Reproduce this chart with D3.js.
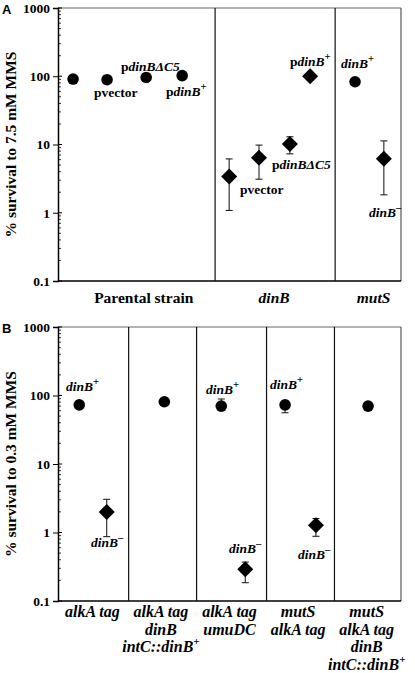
<!DOCTYPE html>
<html><head><meta charset="utf-8">
<script src="https://cdn.jsdelivr.net/npm/d3@7"></script>
<style>
html,body{margin:0;padding:0;background:#fff;}
svg{display:block;font-family:"Liberation Serif","Times New Roman",serif;}
</style></head>
<body>
<svg id="c" width="415" height="673"></svg>
<script>
// ---------- DATA ----------
const yTicks = [0.1, 1, 10, 100, 1000];
const yTickLabels = ["0.1", "1", "10", "100", "1000"];

// Panel A
const groupsA = ["Parental strain", "dinB", "mutS"];
const groupItalicA = [false, true, true];
const groupCentersA = [2.5, 6.3, 9.2];
const dividersA = [4.58, 8.08];
const posA   = [0.44, 1.43, 2.57, 3.62, 4.99, 5.86, 6.76, 7.35, 8.66, 9.50];
const valA   = [91, 89, 96, 102, 3.4, 6.4, 10.2, 100, 83, 6.2];
const shapeA = ["c","c","c","c","d","d","d","d","c","d"];
const loA    = [null, null, null, null, 1.08, 3.1, 7.3, null, 78, 1.83];
const hiA    = [null, null, null, null, 6.15, 9.8, 13, null, 92, 11.3];

// Panel B
const groupsB = [["alkA tag"], ["alkA tag","dinB","intC::dinB+"], ["alkA tag","umuDC"], ["mutS","alkA tag"], ["mutS","alkA tag","dinB","intC::dinB+"]];
const dividersB = [1.03, 2.02, 3.04, 4.03];
const posB   = [0.31, 0.71, 1.55, 2.38, 2.73, 3.31, 3.76, 4.52];
const valB   = [73, 2.0, 81, 70, 0.29, 73, 1.28, 70];
const shapeB = ["c","d","c","c","d","c","d","c"];
const loB    = [null, 0.87, null, null, 0.185, 56, 0.88, null];
const hiB    = [null, 3.05, null, 89, 0.37, null, 1.6, null];

// Annotations: [roman part, italic part, superscript]
const annA = [
  ["pvector","",""], ["p","dinBΔC5",""], ["p","dinB","+"],
  ["pvector","",""], ["p","dinBΔC5",""], ["p","dinB","+"],
  ["","dinB","+"], ["","dinB","-"]
];
const annB = [
  ["","dinB","+"], ["","dinB","-"], ["","dinB","+"], ["","dinB","-"], ["","dinB","+"], ["","dinB","-"]
];

// ---------- LAYOUT ----------
const svg = d3.select("#c");
const X0 = 58, X1 = 401;
const panels = [
  {top: 8, bottom: 281, letter: "A", title: "% survival to 7.5 mM MMS", xdom: [0,10]},
  {top: 327, bottom: 601, letter: "B", title: "% survival to 0.3 mM MMS", xdom: [0,5]}
];
const annPosA = [[94,97],[121,71],[166,96],[240,194],[272,169],[290,66],[341,68],[369,217]];
const annPosB = [[66,391],[91,547],[206,394],[229,553],[270,389],[298,559]];

function drawPanel(p, pos, vals, shapes, lo, hi, dividers) {
  const g = svg.append("g");
  const x = d3.scaleLinear().domain(p.xdom).range([X0, X1]);
  const y = d3.scaleLog().domain([0.1, 1000]).range([p.bottom, p.top]);

  g.append("line").attr("x1",X0).attr("x2",X1).attr("y1",p.top).attr("y2",p.top).attr("stroke","#666").attr("stroke-width",1.2);
  g.append("line").attr("x1",X1).attr("x2",X1).attr("y1",p.top).attr("y2",p.bottom).attr("stroke","#555").attr("stroke-width",1.2);
  g.append("line").attr("x1",X0).attr("x2",X1).attr("y1",p.bottom).attr("y2",p.bottom).attr("stroke","#000").attr("stroke-width",1.5);
  dividers.forEach(d => {
    g.append("line").attr("x1",x(d)).attr("x2",x(d)).attr("y1",p.top).attr("y2",p.bottom).attr("stroke","#111").attr("stroke-width",1.2);
  });

  const minor = [];
  for (let e = -1; e < 3; e++) for (let m = 2; m <= 9; m++) minor.push(m * Math.pow(10, e));
  const ax = g.append("g").attr("transform",`translate(${X0},0)`);
  ax.call(d3.axisLeft(y).tickValues(yTicks).tickFormat((d,i)=>yTickLabels[i]).tickSize(5).tickPadding(3));
  ax.select(".domain").attr("stroke","#000").attr("stroke-width",1.5);
  ax.selectAll(".tick line").attr("stroke","#000");
  ax.selectAll(".tick text").attr("font-family","Liberation Serif, serif").attr("font-weight","bold").attr("font-size",13.5).attr("fill","#000");
  ax.selectAll("line.minor").data(minor).enter().append("line")
    .attr("x1",0).attr("x2",3).attr("y1",d=>y(d)).attr("y2",d=>y(d)).attr("stroke","#000").attr("stroke-width",0.8);
  ax.selectAll("line.majin").data(yTicks).enter().append("line")
    .attr("x1",0).attr("x2",4).attr("y1",d=>y(d)).attr("y2",d=>y(d)).attr("stroke","#000").attr("stroke-width",1);

  g.append("text").attr("transform",`translate(16,${(p.top+p.bottom)/2}) rotate(-90)`)
    .attr("text-anchor","middle").attr("font-weight","bold").attr("font-size",15.5).text(p.title);
  g.append("text").attr("x",2).attr("y",p.top+6).attr("font-family","Liberation Sans, Arial, sans-serif")
    .attr("font-weight","bold").attr("font-size",13).text(p.letter);

  pos.forEach((px,i) => {
    const cx = x(px);
    if (lo[i] != null || hi[i] != null) {
      const yl = y(lo[i] != null ? lo[i] : vals[i]);
      const yh = y(hi[i] != null ? hi[i] : vals[i]);
      g.append("line").attr("x1",cx).attr("x2",cx).attr("y1",yl).attr("y2",yh).attr("stroke","#222").attr("stroke-width",1.1);
      if (lo[i] != null) g.append("line").attr("x1",cx-3.5).attr("x2",cx+3.5).attr("y1",yl).attr("y2",yl).attr("stroke","#222").attr("stroke-width",1.1);
      if (hi[i] != null) g.append("line").attr("x1",cx-3.5).attr("x2",cx+3.5).attr("y1",yh).attr("y2",yh).attr("stroke","#222").attr("stroke-width",1.1);
    }
  });
  pos.forEach((px,i) => {
    const cx = x(px), cy = y(vals[i]);
    if (shapes[i] === "c") {
      g.append("circle").attr("cx",cx).attr("cy",cy).attr("r",5.8).attr("fill","#000");
    } else {
      const r = 8;
      g.append("path").attr("d",`M${cx},${cy-r}L${cx+r},${cy}L${cx},${cy+r}L${cx-r},${cy}Z`).attr("fill","#000");
    }
  });
  return {g, x, y};
}

function annot(g, xx, yy, a) {
  const t = g.append("text").attr("x",xx).attr("y",yy).attr("font-weight","bold").attr("font-size",13.5);
  if (a[0]) t.append("tspan").text(a[0]);
  if (a[1]) t.append("tspan").attr("font-style","italic").text(a[1]);
  if (a[2]) t.append("tspan").attr("dy",-6).attr("font-size",10.5).text(a[2] === "-" ? "\u2013" : a[2]);
}

const A = drawPanel(panels[0], posA, valA, shapeA, loA, hiA, dividersA);
annA.forEach((a,i) => annot(A.g, annPosA[i][0], annPosA[i][1], a));
groupsA.forEach((gname,i) => {
  A.g.append("text").attr("x",A.x(groupCentersA[i])).attr("y",303).attr("text-anchor","middle")
    .attr("font-weight","bold").attr("font-size",15.5).attr("font-style",groupItalicA[i]?"italic":"normal").text(gname);
});

const B = drawPanel(panels[1], posB, valB, shapeB, loB, hiB, dividersB);
annB.forEach((a,i) => annot(B.g, annPosB[i][0], annPosB[i][1], a));
groupsB.forEach((lines,i) => {
  const cx = B.x(i + 0.5);
  lines.forEach((ln,j) => {
    const t = B.g.append("text").attr("x",cx).attr("y",617 + j*17.5).attr("text-anchor","middle")
      .attr("font-weight","bold").attr("font-style","italic").attr("font-size",16);
    if (ln.endsWith("+")) {
      t.append("tspan").text(ln.slice(0,-1));
      t.append("tspan").attr("dy",-7).attr("font-size",11).attr("font-style","normal").text("+");
    } else t.text(ln);
  });
});
</script>
</body></html>
